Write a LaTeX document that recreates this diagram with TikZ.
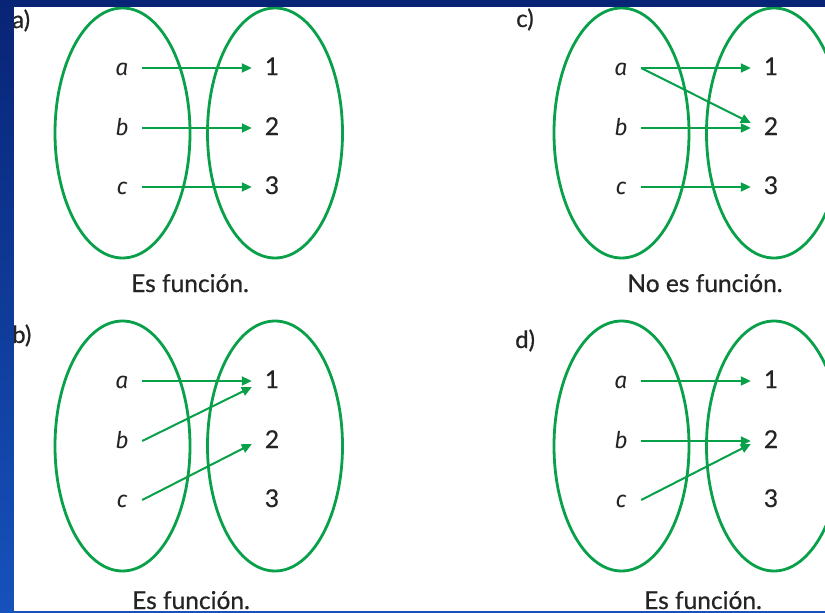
\documentclass[tikz,border=0pt]{standalone}
\usepackage{fontspec}
\setmainfont{Lato}[FakeBold=0.6]
\newfontfamily\labfont{Fira Sans}
\usetikzlibrary{arrows.meta,calc}
\definecolor{fgreen}{RGB}{8,160,72}
\definecolor{txt}{RGB}{36,36,36}
\definecolor{bgtop}{RGB}{8,36,118}
\definecolor{bgbot}{RGB}{22,82,188}
\tikzset{
  ell/.style={draw=fgreen,line width=2.8pt},
  arr/.style={draw=fgreen,line width=2pt,-{Triangle[length=10pt,width=9pt]}},
  lab/.style={inner sep=0pt,minimum width=40pt,text height=14pt,text depth=0pt,text=txt,font=\fontsize{24.5}{28}\selectfont},
  dom/.style={lab,font=\labfont\itshape\fontsize{23}{28}\selectfont},
  captext/.style={inner sep=0pt,anchor=base,text=txt,font=\fontsize{24.5}{28}\selectfont},
  plabel/.style={inner sep=0pt,anchor=base west,text=txt,font=\fontsize{24}{28}\selectfont}
}
\newcommand\drawpanel[1]{%
  \draw[ell] (122.5,133) ellipse [x radius=67.5pt, y radius=125pt];
  \draw[ell] (275,133) ellipse [x radius=67.5pt, y radius=125pt];
  \node[dom] (#1-a) at (122,68) {a};
  \node[dom] (#1-b) at (122,128) {b};
  \node[dom] (#1-c) at (122,187) {c};
  \node[lab] (#1-1) at (272,68) {1};
  \node[lab] (#1-2) at (272,128) {2};
  \node[lab] (#1-3) at (272,187) {3};
}
\begin{document}
\begin{tikzpicture}[x=1pt,y=-1pt]
\useasboundingbox (0,0) rectangle (825,613);
\shade[top color=bgtop,bottom color=bgbot] (0,0) rectangle (825,613);
\fill[white] (14,7) rectangle (825,611);
\begin{scope}
\clip (14,7) rectangle (825,611);
% panel a
\begin{scope}
  \drawpanel{pa}
  \draw[arr] (pa-a.east) -- (pa-1.west);
  \draw[arr] (pa-b.east) -- (pa-2.west);
  \draw[arr] (pa-c.east) -- (pa-3.west);
\end{scope}
% panel c
\begin{scope}[shift={(499,0)}]
  \drawpanel{pc}
  \draw[arr] (pc-a.east) -- (pc-1.west);
  \draw[arr] (pc-a.east) -- ([yshift=5pt]pc-2.west);
  \draw[arr] (pc-b.east) -- (pc-2.west);
  \draw[arr] (pc-c.east) -- (pc-3.west);
\end{scope}
% panel b
\begin{scope}[shift={(0,313)}]
  \drawpanel{pb}
  \draw[arr] (pb-a.east) -- (pb-1.west);
  \draw[arr] (pb-b.east) -- ([yshift=-6pt]pb-1.west);
  \draw[arr] (pb-c.east) -- ([yshift=-3pt]pb-2.west);
\end{scope}
% panel d
\begin{scope}[shift={(499,313)}]
  \drawpanel{pd}
  \draw[arr] (pd-a.east) -- (pd-1.west);
  \draw[arr] (pd-b.east) -- (pd-2.west);
  \draw[arr] (pd-c.east) -- ([yshift=-3pt]pd-2.west);
\end{scope}
% captions
\node[captext] (capa) at (190,292) {Es función.};
\node[captext] (capc) at (705,292) {No es función.};
\node[captext] (capb) at (191,609) {Es función.};
\node[captext] (capd) at (703,609) {Es función.};
% panel labels
\node[plabel] (la) at (12,28) {a)};
\node[plabel] (lc) at (516,27) {c)};
\node[plabel] (lb) at (12,343) {b)};
\node[plabel] (ld) at (515,348) {d)};
\end{scope}
\end{tikzpicture}
\end{document}
